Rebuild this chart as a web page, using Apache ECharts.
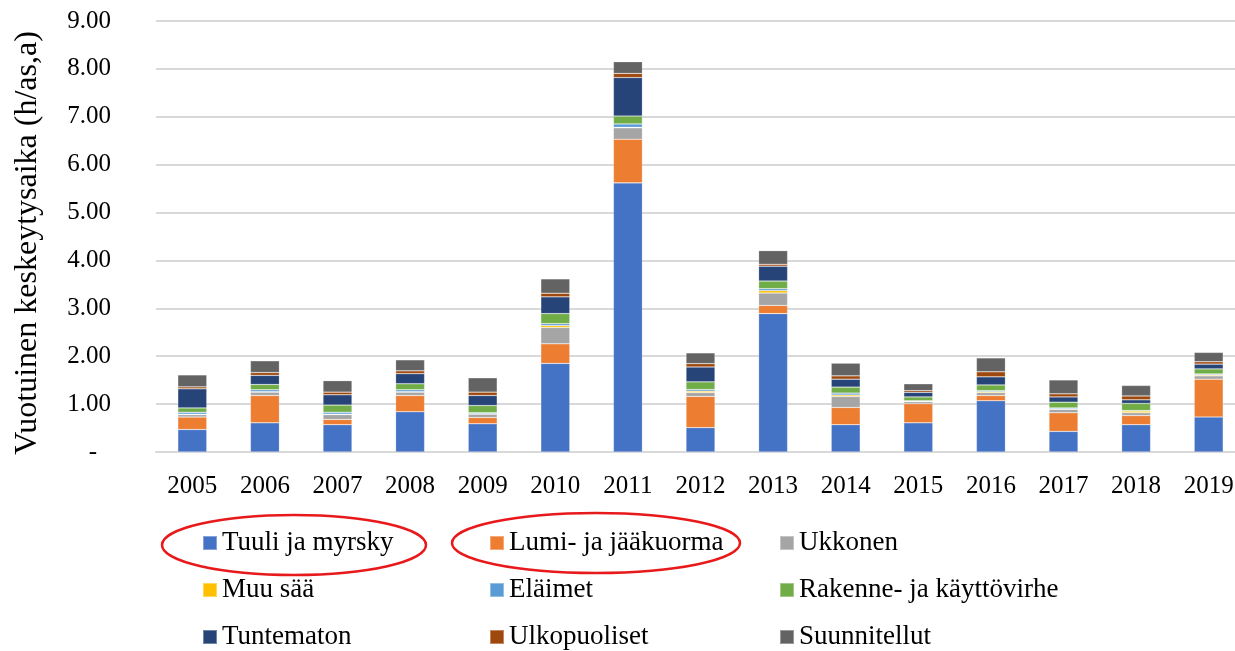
<!DOCTYPE html>
<html>
<head>
<meta charset="utf-8">
<script src="https://cdn.jsdelivr.net/npm/echarts@6/dist/echarts.min.js"></script>
<style>
  html, body { margin: 0; padding: 0; background: #fff; }
  #chart { width: 1235px; height: 651px; }
</style>
</head>
<body>
<div id="chart"></div>
<script>
// Vuotuinen keskeytysaika syittäin (h/as,a), 2005–2019
const years = ['2005','2006','2007','2008','2009','2010','2011','2012','2013','2014','2015','2016','2017','2018','2019'];

const tuuliJaMyrsky   = [0.47, 0.61, 0.57, 0.84, 0.59, 1.85, 5.62, 0.51, 2.89, 0.57, 0.61, 1.07, 0.43, 0.57, 0.73];
const lumiJaJaakuorma = [0.26, 0.57, 0.11, 0.34, 0.13, 0.41, 0.91, 0.65, 0.17, 0.36, 0.40, 0.11, 0.39, 0.19, 0.79];
const ukkonen         = [0.05, 0.07, 0.10, 0.07, 0.07, 0.34, 0.24, 0.08, 0.26, 0.23, 0.04, 0.06, 0.07, 0.06, 0.07];
const muuSaa          = [0.01, 0.01, 0.01, 0.01, 0.01, 0.04, 0.01, 0.03, 0.05, 0.03, 0.01, 0.02, 0.01, 0.035, 0.02];
const elaimet         = [0.04, 0.04, 0.04, 0.04, 0.02, 0.04, 0.07, 0.035, 0.04, 0.04, 0.01, 0.02, 0.02, 0.01, 0.02];
const rakenneVirhe    = [0.09, 0.11, 0.15, 0.125, 0.15, 0.21, 0.165, 0.16, 0.16, 0.125, 0.08, 0.12, 0.12, 0.15, 0.105];
const tuntematon      = [0.40, 0.19, 0.215, 0.21, 0.21, 0.35, 0.805, 0.31, 0.31, 0.165, 0.095, 0.17, 0.11, 0.075, 0.10];
const ulkopuoliset    = [0.04, 0.06, 0.055, 0.06, 0.07, 0.075, 0.085, 0.07, 0.04, 0.07, 0.035, 0.105, 0.065, 0.08, 0.05];
const suunnitellut    = [0.25, 0.245, 0.24, 0.23, 0.30, 0.30, 0.245, 0.225, 0.285, 0.265, 0.145, 0.29, 0.29, 0.22, 0.195];

const seriesNames = ['Tuuli ja myrsky','Lumi- ja jääkuorma','Ukkonen','Muu sää','Eläimet','Rakenne- ja käyttövirhe','Tuntematon','Ulkopuoliset','Suunnitellut'];
const seriesValues = [tuuliJaMyrsky, lumiJaJaakuorma, ukkonen, muuSaa, elaimet, rakenneVirhe, tuntematon, ulkopuoliset, suunnitellut];
const seriesColors = ['#4472C4','#ED7D31','#A5A5A5','#FFC000','#5B9BD5','#70AD47','#264478','#9E480E','#636363'];

const FONT = '"Liberation Serif", "Times New Roman", serif';

const chart = echarts.init(document.getElementById('chart'), null, { renderer: 'canvas' });

// Legend laid out as a 3 x 3 table: one legend box per entry
const legendCols = [202, 489, 779];
const legendRows = [543, 590, 637];
const legends = seriesNames.map((name, i) => ({
  orient: 'horizontal',
  left: legendCols[i % 3],
  top: legendRows[Math.floor(i / 3)] - 15,
  padding: 0,
  itemWidth: 14,
  itemHeight: 14,
  icon: 'rect',
  selectedMode: false,
  data: [name],
  textStyle: { fontFamily: FONT, fontSize: 27, color: '#000', lineHeight: 30 }
}));

chart.setOption({
  animation: false,
  backgroundColor: '#ffffff',
  color: seriesColors,
  grid: { left: 156, right: -10, top: 21, bottom: 199, containLabel: false, outerBoundsMode: 'none' },
  xAxis: {
    type: 'category',
    data: years,
    axisLine: { show: true, lineStyle: { color: '#d9d9d9', width: 2 } },
    axisTick: { show: false },
    axisLabel: { fontFamily: FONT, fontSize: 25, color: '#000', margin: 22 }
  },
  yAxis: {
    type: 'value',
    min: 0,
    max: 9,
    interval: 1,
    axisLine: { show: false },
    axisTick: { show: false },
    splitLine: { lineStyle: { color: '#d9d9d9', width: 2 } },
    axisLabel: {
      fontFamily: FONT, fontSize: 25, color: '#000', margin: 45,
      formatter: v => v === 0 ? '{d|-}' : v.toFixed(2),
      rich: { d: { fontFamily: FONT, fontSize: 25, color: '#000', padding: [0, 14, 0, 0] } }
    }
  },
  legend: legends,
  graphic: [
    {
      type: 'text', x: 28, y: 243, rotation: Math.PI / 2,
      style: { text: 'Vuotuinen keskeytysaika (h/as,a)', fontFamily: FONT, fontSize: 32, fill: '#000', align: 'center', verticalAlign: 'middle' }
    },
    { type: 'ellipse', shape: { cx: 294, cy: 545, rx: 132, ry: 30 }, style: { fill: 'none', stroke: '#e8191b', lineWidth: 2.5 }, z: 100 },
    { type: 'ellipse', shape: { cx: 596, cy: 543, rx: 144, ry: 30 }, style: { fill: 'none', stroke: '#e8191b', lineWidth: 2.5 }, z: 100 }
  ],
  series: seriesNames.map((name, i) => ({
    name: name,
    type: 'bar',
    stack: 'total',
    barWidth: 29,
    data: seriesValues[i],
    itemStyle: { color: seriesColors[i], borderColor: 'rgba(255,255,255,0.35)', borderWidth: 0.6 }
  }))
});
</script>
</body>
</html>
